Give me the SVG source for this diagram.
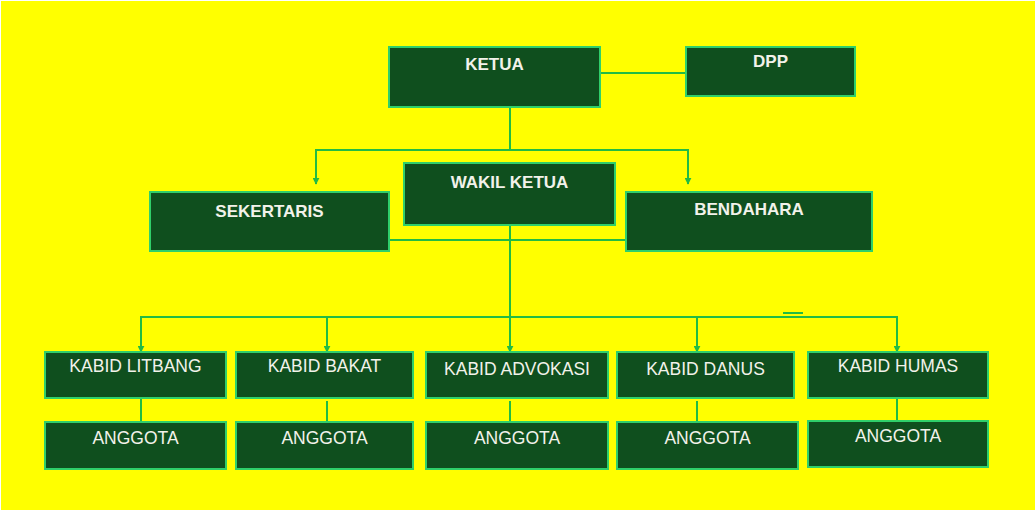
<svg xmlns="http://www.w3.org/2000/svg" width="1036" height="512" viewBox="0 0 1036 512">
<defs>
<marker id="arr" viewBox="0 0 10 10" refX="9" refY="5" markerWidth="7" markerHeight="7" markerUnits="userSpaceOnUse" orient="auto">
<path d="M0,0 L10,5 L0,10 Z" fill="#22bb44"/>
</marker>
<style>
.box{fill:#0f4f1e;stroke:#2fcf6a;stroke-width:2}
.b{font-family:"Liberation Sans",Arial,sans-serif;font-weight:bold;font-size:17px;fill:#f2f2ea;text-anchor:middle}
.n{font-family:"Liberation Sans",Arial,sans-serif;font-size:17.5px;fill:#f2f2ea;text-anchor:middle}
.ln{fill:none;stroke:#22bb44;stroke-width:2}
</style>
</defs>
<rect width="1036" height="512" fill="#ffffff"/>
<rect x="1" y="1" width="1034" height="509" fill="#ffff00"/>
<g id="connectors">
<line class="ln" x1="601" y1="73" x2="688" y2="73"/>
<line class="ln" x1="510" y1="108" x2="510" y2="150"/>
<polyline class="ln" points="316,183 316,150 688,150 688,183"/>
<line class="ln" x1="316" y1="150" x2="316" y2="184" marker-end="url(#arr)"/>
<line class="ln" x1="688" y1="150" x2="688" y2="184" marker-end="url(#arr)"/>
<line class="ln" x1="389" y1="240" x2="626" y2="240"/>
<line class="ln" x1="510" y1="225" x2="510" y2="352" marker-end="url(#arr)"/>
<polyline class="ln" points="141,352 141,317 897,317 897,352"/>
<line class="ln" x1="141" y1="317" x2="141" y2="352" marker-end="url(#arr)"/>
<line class="ln" x1="327" y1="317" x2="327" y2="352" marker-end="url(#arr)"/>
<line class="ln" x1="697" y1="317" x2="697" y2="352" marker-end="url(#arr)"/>
<line class="ln" x1="897" y1="317" x2="897" y2="352" marker-end="url(#arr)"/>
<line class="ln" x1="783" y1="313" x2="803" y2="313"/>
<line class="ln" x1="141" y1="398" x2="141" y2="422"/>
<line class="ln" x1="327" y1="401" x2="327" y2="422"/>
<line class="ln" x1="510" y1="401" x2="510" y2="422"/>
<line class="ln" x1="697" y1="401" x2="697" y2="422"/>
<line class="ln" x1="897" y1="398" x2="897" y2="421"/>
</g>
<g id="ketua"><rect class="box" x="389" y="47" width="211" height="60"/><text class="b" x="494.5" y="70">KETUA</text></g>
<g id="dpp"><rect class="box" x="686" y="47" width="169" height="49"/><text class="b" x="770.5" y="67">DPP</text></g>
<g id="wakil"><rect class="box" x="404" y="163" width="211" height="62"/><text class="b" x="509.5" y="188">WAKIL KETUA</text></g>
<g id="sekertaris"><rect class="box" x="150" y="192" width="239" height="59"/><text class="b" x="269.5" y="217">SEKERTARIS</text></g>
<g id="bendahara"><rect class="box" x="626" y="192" width="246" height="59"/><text class="b" x="749" y="215">BENDAHARA</text></g>
<g id="kabid-litbang"><rect class="box" x="45" y="352" width="181" height="46"/><text class="n" x="135.5" y="372">KABID LITBANG</text></g>
<g id="kabid-bakat"><rect class="box" x="236" y="352" width="177" height="46"/><text class="n" x="324.5" y="372">KABID BAKAT</text></g>
<g id="kabid-advokasi"><rect class="box" x="426" y="352" width="182" height="46"/><text class="n" x="517" y="375">KABID ADVOKASI</text></g>
<g id="kabid-danus"><rect class="box" x="617" y="352" width="177" height="46"/><text class="n" x="705.5" y="375">KABID DANUS</text></g>
<g id="kabid-humas"><rect class="box" x="808" y="352" width="180" height="46"/><text class="n" x="898" y="372">KABID HUMAS</text></g>
<g id="anggota-1"><rect class="box" x="45" y="422" width="181" height="47"/><text class="n" x="135.5" y="444">ANGGOTA</text></g>
<g id="anggota-2"><rect class="box" x="236" y="422" width="177" height="47"/><text class="n" x="324.5" y="444">ANGGOTA</text></g>
<g id="anggota-3"><rect class="box" x="426" y="422" width="182" height="47"/><text class="n" x="517" y="444">ANGGOTA</text></g>
<g id="anggota-4"><rect class="box" x="617" y="422" width="181" height="47"/><text class="n" x="707.5" y="444">ANGGOTA</text></g>
<g id="anggota-5"><rect class="box" x="808" y="421" width="180" height="46"/><text class="n" x="898" y="442">ANGGOTA</text></g>
</svg>
